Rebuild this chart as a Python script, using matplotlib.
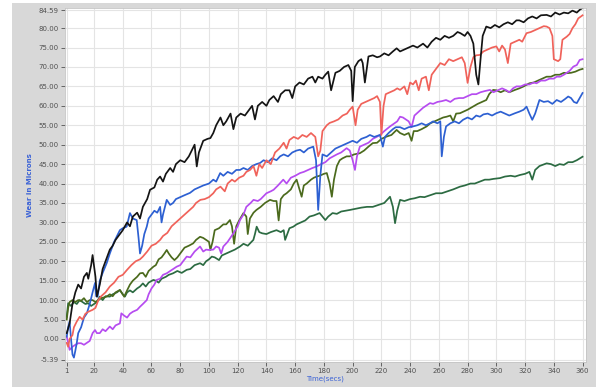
import matplotlib
matplotlib.use("Agg")
import matplotlib.pyplot as plt
from matplotlib.patches import Rectangle

# wear readings (time in secs, wear in microns)
black_t = [1, 3, 5, 7, 9, 11, 13, 15, 16, 18, 19, 21, 22, 24, 26, 28, 31, 33, 35, 38, 40, 43, 45, 47, 50, 52, 54, 57, 59,
           62, 64, 66, 68, 70, 73, 75, 77, 80, 83, 86, 88, 90, 91.5, 93, 96, 99, 101, 103, 105, 108, 110, 112, 115, 117,
           119, 122, 125, 128, 130, 132, 134, 137, 140, 142, 145, 148, 150, 153, 156, 158, 160, 163, 166, 169, 172, 174,
           176, 179, 181, 183, 185, 188, 191, 194, 197, 199, 200, 201.5, 204, 206, 207, 208.5, 211, 214, 217, 219, 222,
           225, 228, 230.6, 233, 236, 239, 242, 245, 249, 252, 255, 258, 261, 264, 267, 270, 273, 275, 278, 280, 282,
           284, 286, 287.5, 289, 290.5, 293, 296, 299, 302, 305, 308, 311, 314, 316, 319, 322, 325, 328, 331, 335, 338,
           341, 344, 347, 350, 353, 356, 358, 360]
black_v = [1.5, 4, 9, 12, 14, 13, 16, 17, 15.5, 19, 21.6, 16, 10.9, 14, 18, 20, 23, 24, 25.5, 27, 28, 30, 29, 31.5, 32.5,
           31, 34, 36, 38.4, 39, 41, 41.8, 40.5, 42.5, 44, 43, 45, 46, 45.5, 47, 48.5, 50, 44.4, 48, 51, 51.5, 51.7, 53,
           55, 57, 55, 56, 58, 54, 57, 58, 57.5, 59, 60, 56.5, 60, 61, 60, 61.5, 62.5, 61, 63, 64, 64, 62, 65, 66, 65.5,
           67, 67.5, 66, 67.5, 67, 68, 68.8, 64, 68.5, 69, 70, 70.5, 69, 61.2, 70, 71.5, 72, 71, 66, 72.7, 73, 72.5, 72.7,
           73.5, 73, 74, 74.8, 74, 74.5, 75, 75.5, 75, 76, 75, 76.5, 77.5, 77, 78, 77.5, 78, 79, 78.7, 78, 79, 78, 76,
           68, 65.5, 72, 78, 80.4, 80, 80.8, 80.2, 81, 81.5, 81, 82, 82, 81.5, 82.5, 83, 82.5, 83.3, 83.4, 83, 84, 83.5,
           84, 83.8, 84.5, 84, 84.7, 85.2]

red_t = [1, 2, 3, 5, 6, 8, 10, 12, 14, 16, 19, 21, 23, 25, 28, 31, 34, 37, 40, 43, 46, 49, 52, 54, 57, 60, 63, 66, 68,
         71, 74, 77, 80, 83, 86, 89, 91, 94, 97, 100, 103, 105, 108, 111, 113, 116, 118, 121, 124, 126, 128.6, 131, 133,
         135, 137, 140, 143, 146, 149, 152, 154, 156, 159, 162, 165, 168, 171, 174, 176, 177.5, 179, 182, 184, 187, 190,
         193, 196, 198, 200, 202, 203.5, 206, 209, 212, 215, 217, 219, 220, 221.5, 223, 226, 229, 231, 233, 236, 238, 240,
         242, 244, 246, 248, 251, 253, 255, 258, 261, 264, 267, 270, 273, 276, 278, 280, 282, 284, 286, 288.6, 291, 294,
         297, 300, 302, 304, 306, 308, 310, 313, 316, 318, 321, 324, 327, 330, 333, 335, 337, 339, 340, 343, 344.5, 346,
         349, 351, 353, 355, 357, 360]
red_v = [-1, -2, 0, 1, 3, 4.5, 5.7, 5, 6.5, 7, 7.5, 8, 10, 11, 12, 13.5, 14.5, 16, 16.5, 17.8, 19, 20, 20.5, 21.2, 22.5,
         24, 24.5, 25.5, 26.5, 27.3, 29, 30, 31, 32, 33, 34, 35, 35.8, 36, 36.5, 37.5, 38.5, 39.2, 38, 40, 41, 40.5,
         41.5, 42, 43, 43.5, 44.5, 42, 45, 44, 46, 45, 48, 49, 50.5, 49, 51.2, 52, 51.5, 52.5, 52, 53, 52, 47, 48.5,
         53.5, 55, 55.6, 56, 56.5, 57.5, 58, 59, 59.8, 55, 59, 60.5, 61, 61.5, 62, 62.5, 61, 52.5, 60, 63, 63.5, 64,
         64.5, 64.1, 65, 63, 66, 65.5, 66.5, 64, 67, 67.5, 64, 68, 69.5, 71, 70.5, 72, 71.5, 72, 72.5, 71, 65.9, 70,
         72.5, 73, 73.1, 74, 74.5, 75, 75.3, 74, 75.5, 74.5, 71, 76, 76.5, 77, 76.5, 78.7, 79, 79.5, 80, 80.5, 80.4,
         80, 78, 72, 71.5, 72, 77, 77.8, 78.5, 80, 81, 82.5, 83.3]

blue_t = [1, 2, 3, 4, 5, 6, 7, 8, 9, 11, 13, 15, 17, 19, 20.7, 21.5, 22.5, 24, 26, 28.8, 31, 34, 36, 38, 40, 42.7, 45,
          47, 49.7, 51, 52, 53.5, 55, 56.7, 58, 60, 62, 64, 66, 67, 68, 70.6, 73, 75, 77, 80, 83, 86.8, 90, 93, 96,
          100, 103, 105, 107.8, 110, 113, 116, 119, 121.6, 124, 127, 130, 133, 135.6, 138, 141, 144, 147, 149.5, 152,
          155, 158, 161, 163.4, 166, 169, 172.6, 174.5, 176, 177.5, 179, 182, 185, 188, 191, 194, 197, 200, 203, 206,
          209.7, 212, 215, 219, 221, 222.5, 225, 228, 230, 233, 236, 239, 242, 245, 248, 251, 253.8, 256, 259, 261, 262,
          263.5, 265, 268, 271, 274, 276.8, 280, 283, 286, 288.6, 291, 294, 297, 300, 303, 306, 309, 313, 316, 319, 321,
          323, 325, 327, 330, 333, 336, 339, 342, 345, 348, 350, 352, 354, 356, 358, 360]
blue_v = [0.6, 3, 4.5, 0, -4, -4.8, -3, -1, 1.5, 3, 5.5, 6.6, 9, 12, 14.4, 11, 10.9, 15, 17, 19.5, 22, 25, 26.5, 28,
          28.5, 28.9, 32.4, 31, 30.6, 26, 22, 24, 27, 28.9, 31, 32, 33, 32.5, 34, 30, 32, 35.8, 34.5, 35, 36, 36.5, 37,
          37.6, 38.5, 39, 39.5, 40, 41, 40.5, 42.7, 42, 43, 42.5, 43.5, 43.5, 44, 43.5, 44.5, 45, 45.3, 46, 45.5, 46.5,
          46, 47, 47.5, 47, 48, 48.5, 48.7, 48, 49, 49.5, 46, 33.2, 42, 47.5, 47, 48, 49, 49.5, 50, 50.5, 51, 50.5, 51.5,
          52, 52.5, 52, 52.5, 49.5, 52, 53, 54, 54.5, 54.5, 54, 54.5, 54.7, 55, 55.5, 55, 55.5, 56, 55.5, 56, 47, 52,
          54.7, 55.5, 56, 55.5, 56.4, 57, 56.5, 57.5, 57.2, 57.8, 58, 57.5, 58.1, 58.5, 58, 57.5, 58.1, 58.5, 59, 59.8,
          58, 56.4, 58, 61.5, 61, 61.2, 60.5, 61.5, 61, 61.8, 62.4, 62, 61, 60.7, 62, 63.3]

purple_t = [1, 2, 3, 5, 7, 9, 11, 13, 15, 17, 19, 20.7, 22, 24, 26, 28, 31, 33, 35, 38, 39, 41, 43, 45, 47, 50, 52, 54,
            56.7, 58, 60, 62, 63.6, 66, 68, 70.6, 73, 75, 77.5, 80, 82, 84.5, 87, 90, 93.8, 96, 98, 100, 103, 105, 107,
            108.5, 110, 113, 117, 120, 121.6, 124, 126, 129, 131, 134, 136, 140, 143, 145, 148, 151.7, 154, 157, 160,
            163.4, 166, 169, 172, 175, 178, 181, 184, 186.5, 189, 192, 195.8, 198, 200, 201.6, 203, 205, 208, 211, 214,
            216.7, 219, 222, 226, 229, 231, 233, 235, 237, 239, 241, 243, 246, 249, 251, 253.8, 256, 259, 262, 265, 268,
            271, 274, 277, 280, 283, 286, 289, 292, 295.6, 298, 301, 304, 307, 309, 311.6, 314, 317, 320, 323, 326, 328,
            331, 334, 337, 340, 342, 344.5, 347, 349, 351, 353.6, 356, 358, 360]
purple_v = [0.6, -1, -2.8, -2, -1.5, -1.1, -1.1, -1.5, -1, -0.5, 1.5, 2.3, 1.5, 1.5, 2.5, 2, 3.2, 2.5, 3.5, 4, 6.6, 6,
            5.5, 6.5, 7, 7.5, 8.3, 9, 10, 11.5, 13, 14, 15.2, 15.5, 16.5, 16.9, 17.5, 18, 18.6, 19, 20, 21.2, 21, 22.5,
            23.8, 22.5, 23, 22.9, 23, 23.8, 23.5, 22, 23.8, 25, 27.2, 29, 30.6, 32, 34, 35, 35.8, 35.5, 36, 37.5, 38,
            38.4, 39.5, 41, 40, 41.5, 42, 42.7, 43, 43.5, 44, 44.4, 45, 45.5, 46.5, 47, 47.5, 48, 49.1, 48.5, 46, 43.5,
            47, 49.5, 50, 50.5, 51.5, 52, 52.5, 53.5, 54.7, 55.5, 56, 57.2, 57, 56.5, 56, 54.5, 57.5, 58.5, 59.5, 60,
            60.7, 60.5, 61, 61.2, 61.5, 61, 61.8, 62, 62, 62.5, 63, 63, 63.5, 63.8, 64.1, 63.5, 64, 64.5, 64, 63.5, 64.5,
            65, 65, 65.5, 65.5, 66, 65.8, 66.5, 66.5, 67, 67, 67.5, 67.5, 68, 68.5, 69, 70.1, 70.5, 71.8, 72]

olive_t = [1, 2, 3, 5, 7, 9, 11, 13, 15, 17, 19, 21, 23, 25, 28.8, 31, 33, 35, 38, 40, 41, 43, 45, 47, 50, 52, 54, 56,
           58, 61.3, 63, 65, 67, 69, 70.6, 72, 74, 76, 78, 80, 83, 86, 89, 91, 93.8, 96, 98, 100, 101, 102.5, 104, 107,
           110, 112, 114.6, 116, 117.5, 119, 121, 124, 126, 127, 128.5, 131, 133, 136, 139, 142.5, 145, 147, 148.5, 150,
           152, 154, 157, 159, 161, 163, 164.5, 166, 168, 171, 173, 175, 177, 180, 182, 184, 185.5, 187, 189, 191, 193,
           195.8, 198, 201, 205, 208, 211, 214, 217, 220, 223.7, 227, 230.6, 233, 236, 239, 241, 242.5, 245, 248, 251.5,
           254, 257, 260, 263, 265.4, 268, 270, 272, 274.7, 277, 280, 283.8, 287, 290, 293, 295, 297.8, 300, 303, 306,
           309, 313, 316, 319, 323, 326, 329, 332, 335, 338, 341, 344, 347, 349, 352, 355, 358, 360]
olive_v = [5, 8, 9.5, 10, 9.5, 10, 9.8, 10.5, 9.5, 10, 10, 9.5, 10, 10.5, 10.9, 11.5, 11, 12, 12.6, 11.5, 10.9, 12.5,
           14, 15, 16, 16.9, 17, 16, 17.5, 18.6, 19, 20.5, 21, 22, 22.9, 22, 21, 20.3, 21, 22, 23.5, 24, 24.6, 25.5,
           26.3, 26, 25.5, 25, 22.9, 25, 28, 28.5, 29.5, 29.5, 30.6, 29, 24.5, 29, 30.5, 32.4, 31.5, 27, 31, 32.5, 33.2,
           34, 35, 35.8, 35.5, 35.5, 30.5, 36, 37, 37.5, 38.5, 40, 41, 38.5, 36.6, 39.5, 40, 41, 41.5, 41.8, 42, 42.5,
           42.7, 40, 36.6, 41, 44.5, 46, 46.5, 47, 47, 47.5, 47.8, 48.5, 49.5, 50.4, 50.5, 51.5, 52.1, 52.5, 53.8, 53,
           52.5, 53, 51, 53.5, 53.5, 54, 54.7, 55.5, 56, 56.5, 57, 57.2, 57.5, 56, 58, 58.1, 58.5, 59, 59.8, 60.5, 61,
           61.5, 63, 64.1, 64, 63.5, 64, 63.5, 64.1, 64.5, 65, 65.8, 66, 66.5, 67, 67.5, 67.5, 68, 68, 68.5, 68.4,
           68.5, 68.8, 69.3, 69.5]

green_t = [1, 2, 4, 6, 8, 10, 12, 14, 16, 18, 20, 22, 24, 26, 28, 31, 33, 36, 38, 40, 41.5, 43, 45, 47, 50, 52, 54,
           56, 58, 61.3, 63, 65, 67, 70, 72, 75, 78, 81, 84.5, 87, 90, 93.8, 96, 98, 100, 102, 104, 107, 109, 112, 115,
           118, 121.6, 124, 127, 130.9, 132, 133.2, 135, 137, 140, 143, 147, 150, 152, 153, 154.5, 156, 158.7, 161,
           164, 167, 170, 173, 177, 179, 181, 183, 186, 189, 192, 195, 198, 202, 206, 210, 214, 218, 222, 226, 228,
           229.5, 231, 233, 236, 240, 243, 246.9, 250, 254, 258, 262, 266, 270, 274.7, 278, 282, 285, 288.6, 292, 295,
           298, 302.5, 306, 310, 313, 316.4, 320, 323, 325, 327, 330, 335, 338, 341, 344, 347, 350, 353, 356, 360]
green_v = [5.7, 9.2, 8.5, 9.5, 9, 10, 9.5, 9, 9.2, 8.5, 9, 9.5, 10.9, 10, 11, 10.9, 11.5, 12, 12.6, 11.5, 10.9, 12,
           12.5, 12, 13, 13.5, 14.3, 13.5, 14.5, 15.2, 15, 14.5, 15.5, 16, 16.5, 16.9, 17.5, 17, 17.8, 18, 19, 19.5, 19,
           20, 20.5, 21.2, 21, 20.3, 21.5, 22, 22.5, 23, 23.8, 24.5, 24, 25.5, 27, 28.9, 27.5, 27.2, 27, 27.5, 28, 27.5,
           28, 25.5, 27, 28.5, 28.9, 29.5, 30, 30.5, 31.5, 31.8, 32.4, 31.5, 30.6, 31.5, 32.4, 32.2, 32.8, 33, 33.2,
           33.5, 33.8, 34, 34, 34.5, 35, 36.6, 34, 29.8, 33, 35.8, 35.5, 36, 36.2, 36.6, 36.5, 37, 37.5, 37.5, 38,
           38.5, 39.2, 39.5, 40, 40, 40.5, 41, 41, 41.2, 41.4, 41.8, 42, 41.8, 42.2, 42.5, 43, 41, 43.5, 44.5, 45.2,
           45, 44.5, 45, 44.8, 45.5, 45.5, 46, 46.9]

x_ticks = [1, 20, 40, 60, 80, 100, 120, 140, 160, 180, 200, 220, 240, 260, 280, 300, 320, 340, 360]
y_ticks = [-5.39, 0, 5, 10, 15, 20, 25, 30, 35, 40, 45, 50, 55, 60, 65, 70, 75, 80, 84.59]

fig = plt.figure(figsize=(6, 3.87), dpi=100, facecolor="white")
# grey labview style panel behind the graph
fig.patches.append(Rectangle((12 / 600, 0), 584 / 600, 384 / 387, transform=fig.transFigure,
                             facecolor="#d8d8d8", edgecolor="none", zorder=-5))

ax = fig.add_axes([65 / 600, 1 - 361.7 / 387, 521 / 600, 353.4 / 387])
ax.set_facecolor("white")

lw = 1.25
ax.plot(green_t, green_v, color="#2c6b42", lw=lw)
ax.plot(olive_t, olive_v, color="#4b6a1d", lw=lw)
ax.plot(purple_t, purple_v, color="#b64cf0", lw=lw)
ax.plot(blue_t, blue_v, color="#2d60d2", lw=lw)
ax.plot(red_t, red_v, color="#f0625a", lw=lw)
ax.plot(black_t, black_v, color="#141414", lw=lw)

ax.set_xlim(-0.2, 362.4)
ax.set_ylim(-5.85, 85.1)
ax.set_xticks(x_ticks)
ax.set_xticklabels([str(v) for v in x_ticks])
ax.set_yticks(y_ticks)
ax.set_yticklabels(["%.2f" % v for v in y_ticks])
ax.grid(True, color="#e4e4e4", lw=0.8)
ax.set_axisbelow(True)
ax.tick_params(axis="both", labelsize=5, colors="#505050", length=3, width=0.6, pad=1.5)
for s in ax.spines.values():
    s.set_color("#c4c4c4")
    s.set_linewidth(0.6)

ax.set_ylabel("Wear in Microns", color="#3b62d6", fontsize=5, fontweight="bold", labelpad=4)
ax.set_xlabel("Time(secs)", color="#3b62d6", fontsize=5, labelpad=1)

fig.savefig("out.png", dpi=100, facecolor=fig.get_facecolor())
